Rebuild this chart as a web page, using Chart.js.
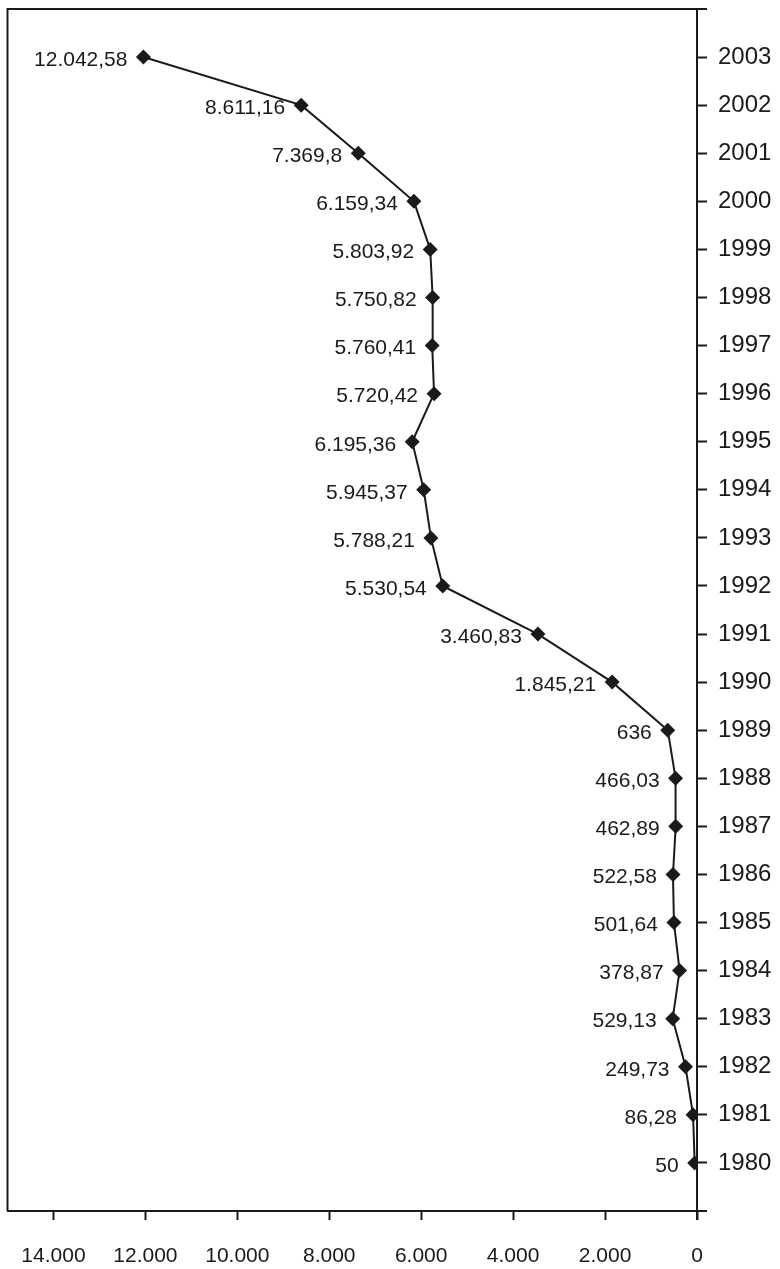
<!DOCTYPE html>
<html>
<head>
<meta charset="utf-8">
<title>Line chart 1980-2003</title>
<script src="https://cdn.jsdelivr.net/npm/chart.js"></script>
<style>
  html, body { margin: 0; padding: 0; background: #fff; }
  #wrap { width: 780px; height: 1269px; }
</style>
</head>
<body>
<div id="wrap"><canvas id="lineChart" width="780" height="1269"></canvas></div>
<script>
const years = [1980, 1981, 1982, 1983, 1984, 1985, 1986, 1987, 1988, 1989, 1990, 1991,
               1992, 1993, 1994, 1995, 1996, 1997, 1998, 1999, 2000, 2001, 2002, 2003];
const values = [50, 86.28, 249.73, 529.13, 378.87, 501.64, 522.58, 462.89, 466.03, 636, 1845.21, 3460.83,
                5530.54, 5788.21, 5945.37, 6195.36, 5720.42, 5760.41, 5750.82, 5803.92, 6159.34, 7369.8, 8611.16, 12042.58];
const xTicks = [0, 2000, 4000, 6000, 8000, 10000, 12000, 14000];
const xTickLabels = ['0', '2.000', '4.000', '6.000', '8.000', '10.000', '12.000', '14.000'];

const FONT = '"Liberation Sans", Arial, Helvetica, sans-serif';
const INK = '#1a1a1a';

// german number format: 12042.58 -> 12.042,58
function fmtDe(v) {
  let s = v.toFixed(2).replace(/0+$/, '').replace(/\.$/, '');
  let parts = s.split('.');
  let int = parts[0].replace(/\B(?=(\d{3})+(?!\d))/g, '.');
  return parts.length > 1 ? int + ',' + parts[1] : int;
}

// frame lines that the axes do not draw themselves
const framePlugin = {
  id: 'frame',
  afterDraw(chart) {
    const a = chart.chartArea;
    const c = chart.ctx;
    c.save();
    c.strokeStyle = INK;
    c.lineWidth = 2;
    c.beginPath();
    c.moveTo(a.left, a.bottom); c.lineTo(a.left, a.top);      // left
    c.moveTo(a.left - 1, a.top); c.lineTo(a.right + 10, a.top); // top
    c.moveTo(a.right, a.bottom); c.lineTo(a.right + 10, a.bottom); // bottom extension
    c.moveTo(a.right, a.top); c.lineTo(a.right, a.bottom + 9);  // axis line incl. extension
    c.stroke();
    c.restore();
  }
};

// value labels left of each point
const labelPlugin = {
  id: 'valueLabels',
  afterDatasetsDraw(chart) {
    const meta = chart.getDatasetMeta(0);
    const c = chart.ctx;
    c.save();
    c.font = '21px ' + FONT;
    c.fillStyle = INK;
    c.textAlign = 'right';
    c.textBaseline = 'middle';
    meta.data.forEach((pt, i) => {
      c.fillText(fmtDe(values[i]), pt.x - 16, pt.y + 3);
    });
    c.restore();
  }
};

const ctx = document.getElementById('lineChart').getContext('2d');
new Chart(ctx, {
  type: 'line',
  data: {
    datasets: [{
      data: years.map((y, i) => ({ x: values[i], y: y })),
      borderColor: INK,
      borderWidth: 2,
      backgroundColor: INK,
      pointStyle: 'rectRot',
      pointRadius: 7.5,
      pointBorderWidth: 0,
      pointBackgroundColor: INK,
      fill: false,
      tension: 0
    }]
  },
  options: {
    responsive: false,
    animation: false,
    devicePixelRatio: 1,
    layout: { padding: { left: 7, top: 9, right: 0, bottom: 0 } },
    plugins: {
      legend: { display: false },
      tooltip: { enabled: false }
    },
    scales: {
      x: {
        type: 'linear',
        reverse: true,
        min: 0,
        max: 15000,
        afterBuildTicks: (s) => { s.ticks = xTicks.map(v => ({ value: v })); },
        afterFit: (s) => { s.height = 58; s.paddingLeft = 0; s.paddingRight = 0; },
        grid: { drawOnChartArea: false, drawTicks: true, tickLength: 9, tickWidth: 2, tickColor: INK },
        border: { display: true, color: INK, width: 2 },
        ticks: {
          padding: 24,
          color: INK,
          font: { family: FONT, size: 21 },
          maxRotation: 0,
          callback: (v) => xTickLabels[xTicks.indexOf(v)]
        }
      },
      y: {
        type: 'linear',
        position: 'right',
        min: 1979,
        max: 2004,
        afterBuildTicks: (s) => { s.ticks = years.map(v => ({ value: v })); },
        afterFit: (s) => { s.width = 83; s.paddingTop = 0; s.paddingBottom = 0; },
        grid: { drawOnChartArea: false, drawTicks: true, tickLength: 10, tickWidth: 2, tickColor: INK },
        border: { display: true, color: INK, width: 2 },
        ticks: {
          padding: 11,
          color: INK,
          font: { family: FONT, size: 24 },
          callback: (v) => String(v)
        }
      }
    }
  },
  plugins: [framePlugin, labelPlugin]
});
</script>
</body>
</html>
